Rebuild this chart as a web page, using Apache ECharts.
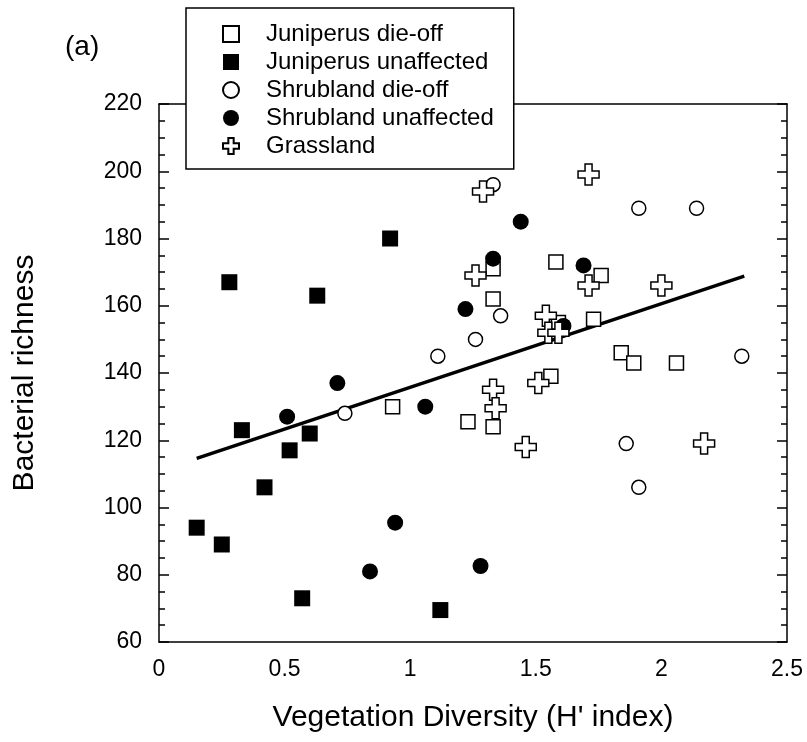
<!DOCTYPE html>
<html>
<head>
<meta charset="utf-8">
<script src="https://cdn.jsdelivr.net/npm/echarts@6/dist/echarts.min.js"></script>
<style>
  html, body { margin: 0; padding: 0; background: #fff; }
  #chart { width: 807px; height: 742px; }
</style>
</head>
<body>
<div id="chart"></div>
<script>
// values: [vegetation H', bacterial richness]
const juniperusDieOff = [
  [0.93, 130], [1.23, 125.5], [1.33, 124], [1.33, 162], [1.33, 171], [1.58, 173],
  [1.59, 155], [1.73, 156], [1.76, 169], [1.56, 139], [1.84, 146], [1.89, 143], [2.06, 143],
]
const juniperusUnaffected = [
  [0.92, 180], [0.28, 167], [0.63, 163], [0.33, 123], [0.60, 122], [0.52, 117],
  [0.42, 106], [0.15, 94], [0.25, 89], [0.57, 73], [1.12, 69.5],
]
const shrublandDieOff = [
  [1.33, 196], [1.91, 189], [2.14, 189], [1.36, 157], [1.26, 150], [1.11, 145],
  [0.74, 128], [2.32, 145], [1.86, 119], [1.91, 106],
]
const shrublandUnaffected = [
  [1.44, 185], [1.33, 174], [1.69, 172], [1.22, 159], [1.61, 154], [0.71, 137],
  [0.51, 127], [1.06, 130], [0.94, 95.5], [0.84, 81], [1.28, 82.6],
]
const grassland = [
  [1.71, 199], [1.29, 194], [1.26, 169], [1.71, 166], [2.0, 166], [1.54, 157],
  [1.55, 152], [1.59, 152], [1.51, 137], [1.33, 135], [1.34, 129.5], [1.46, 118], [2.17, 119],
]
const fitLine = [[0.15, 114.6], [2.33, 168.8]]

const seriesNames = ['Juniperus die-off', 'Juniperus unaffected', 'Shrubland die-off', 'Shrubland unaffected', 'Grassland']
const xTicks = { min: 0, max: 2.5, interval: 0.5 }
const yTicks = { min: 60, max: 220, interval: 20 }

const font = 'Liberation Sans, Arial, Helvetica, sans-serif'
const plusPath = 'path://M1,0 L2,0 L2,1 L3,1 L3,2 L2,2 L2,3 L1,3 L1,2 L0,2 L0,1 L1,1 Z'
const openStyle = { color: '#fff', borderColor: '#000', borderWidth: 1.5, opacity: 1 }
const filledStyle = { color: '#000', opacity: 1 }
const axisLine = { show: true, onZero: false, lineStyle: { color: '#000', width: 1.5 } }
const yTick = { show: true, inside: true, length: 10, lineStyle: { color: '#000', width: 1.5 } }
const yMinorTick = { show: true, splitNumber: 4, length: 6, lineStyle: { color: '#000', width: 1.5 } }

const chart = echarts.init(document.getElementById('chart'), null, { renderer: 'canvas' })

function scatter(name, data, symbol, size, style) {
  return {
    name, type: 'scatter', data, symbol, symbolSize: size,
    itemStyle: style, emphasis: { disabled: true }, z: 3,
  }
}

chart.setOption({
  animation: false,
  backgroundColor: '#fff',
  textStyle: { fontFamily: font, color: '#000' },
  title: {
    text: '(a)', left: 60, top: 28,
    textStyle: { fontFamily: font, fontSize: 28, fontWeight: 'normal', color: '#000' },
  },
  legend: {
    data: seriesNames,
    orient: 'vertical',
    left: 186, top: 8,
    padding: [14, 20, 11, 36],
    itemWidth: 16, itemHeight: 16, itemGap: 4,
    backgroundColor: '#fff',
    borderColor: '#000', borderWidth: 1.5, borderRadius: 0,
    selectedMode: false,
    textStyle: { fontFamily: font, fontSize: 24, color: '#000', padding: [0, 0, 0, 22] },
    z: 10,
  },
  grid: { left: 159, right: 20, top: 104, bottom: 100, containLabel: false },
  xAxis: [
    {
      type: 'value', ...xTicks, position: 'bottom',
      name: "Vegetation Diversity (H' index)", nameLocation: 'middle', nameGap: 61,
      nameTextStyle: { fontFamily: font, fontSize: 30, color: '#000' },
      axisLine, axisTick: { show: false }, splitLine: { show: false },
      axisLabel: { fontFamily: font, fontSize: 23, color: '#000', margin: 16 },
    },
    {
      type: 'value', ...xTicks, position: 'top',
      axisLine, axisTick: { show: false }, axisLabel: { show: false }, splitLine: { show: false },
    },
  ],
  yAxis: [
    {
      type: 'value', ...yTicks, position: 'left',
      name: 'Bacterial richness', nameLocation: 'middle', nameGap: 119, nameRotate: 90,
      nameTextStyle: { fontFamily: font, fontSize: 30, color: '#000' },
      axisLine, axisTick: yTick, minorTick: yMinorTick,
      splitLine: { show: false },
      axisLabel: { fontFamily: font, fontSize: 23, color: '#000', margin: 17 },
    },
    {
      type: 'value', ...yTicks, position: 'right',
      axisLine, axisTick: yTick, minorTick: yMinorTick,
      splitLine: { show: false },
      axisLabel: { show: false },
    },
  ],
  series: [
    {
      name: 'fit', type: 'line', data: fitLine, symbol: 'none', silent: true, z: 2,
      lineStyle: { color: '#000', width: 3.5 },
    },
    scatter('Juniperus die-off', juniperusDieOff, 'rect', 14, openStyle),
    scatter('Juniperus unaffected', juniperusUnaffected, 'rect', 16, filledStyle),
    scatter('Shrubland die-off', shrublandDieOff, 'circle', 14, openStyle),
    scatter('Shrubland unaffected', shrublandUnaffected, 'circle', 16, filledStyle),
    scatter('Grassland', grassland, plusPath, 21, openStyle),
  ],
})
</script>
</body>
</html>
